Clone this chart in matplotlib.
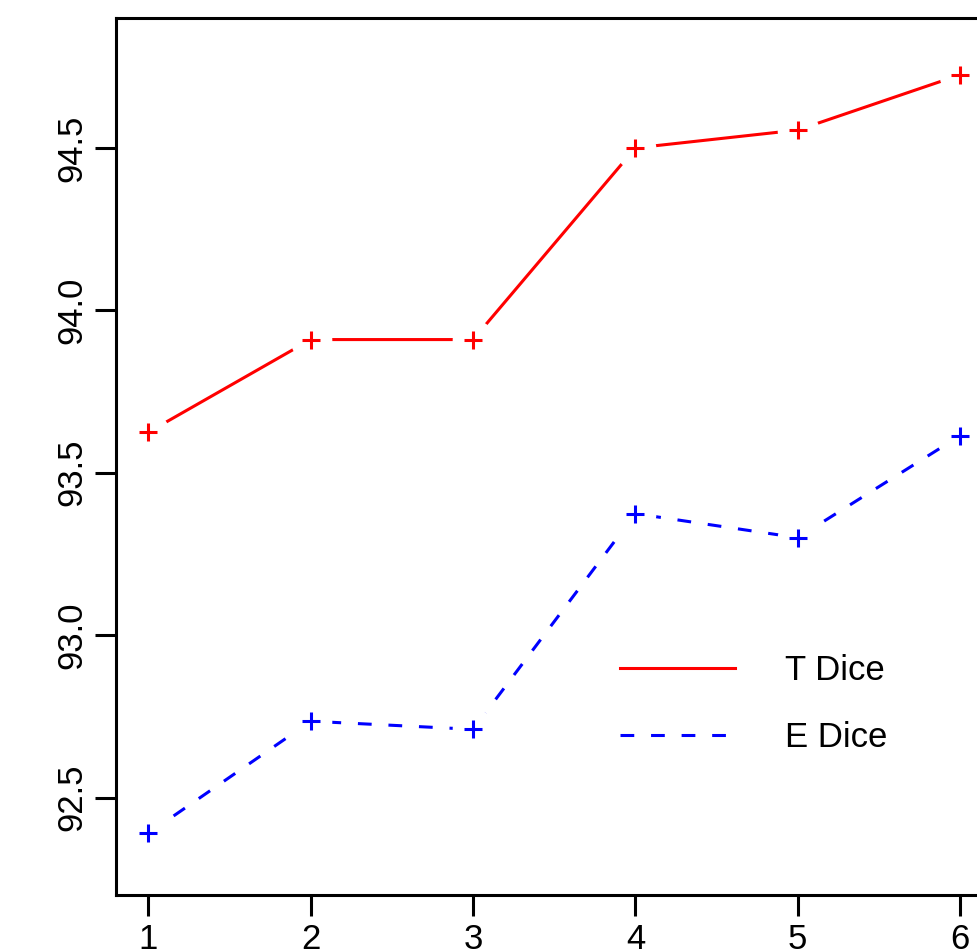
import matplotlib
matplotlib.use('Agg')
import matplotlib.pyplot as plt

plt.rcParams['font.family'] = ['Liberation Sans', 'DejaVu Sans']

x = [1, 2, 3, 4, 5, 6]
t_dice = [93.625, 93.91, 93.91, 94.50, 94.555, 94.725]
e_dice = [92.39, 92.735, 92.71, 93.374, 93.30, 93.614]
labels = ['T Dice', 'E Dice']
colors = ['red', 'blue']
styles = ['-', '--']

fig = plt.figure(figsize=(9.77, 9.51), dpi=100)
ax = fig.add_axes([116/977, 1-895/951, (992.5-116)/977, (895-18)/951])

for y, lab, c, ls in zip([t_dice, e_dice], labels, colors, styles):
    line, = ax.plot(x, y, color=c, linestyle=ls, linewidth=2.2, label=lab, zorder=2)
    if ls == '--':
        line.set_dashes((4.5, 5.5))
    # gaps around points like R type="b"
    ax.plot(x, y, linestyle='none', marker='o', markersize=30, markerfacecolor='white',
            markeredgewidth=0, zorder=3)
    ax.plot(x, y, linestyle='none', marker='+', markersize=13, markeredgewidth=2.2,
            color=c, zorder=4)

ax.set_xlim(0.8, 6.2)
ax.set_ylim(92.2, 94.9)
ax.set_xticks(x)
ax.set_yticks([92.5, 93.0, 93.5, 94.0, 94.5])
ax.set_yticklabels(['92.5', '93.0', '93.5', '94.0', '94.5'], rotation=90, va='center')
ax.tick_params(labelsize=25, length=15, width=2.2, pad=5)
for s in ax.spines.values():
    s.set_linewidth(2.2)

ax.legend(loc='upper left', bbox_to_anchor=(620/977, 1-654/951), bbox_transform=fig.transFigure,
          frameon=False, fontsize=25, handlelength=3.3, handletextpad=1.45,
          labelspacing=0.97, borderpad=0, borderaxespad=0)

fig.savefig('out.png', dpi=100)
